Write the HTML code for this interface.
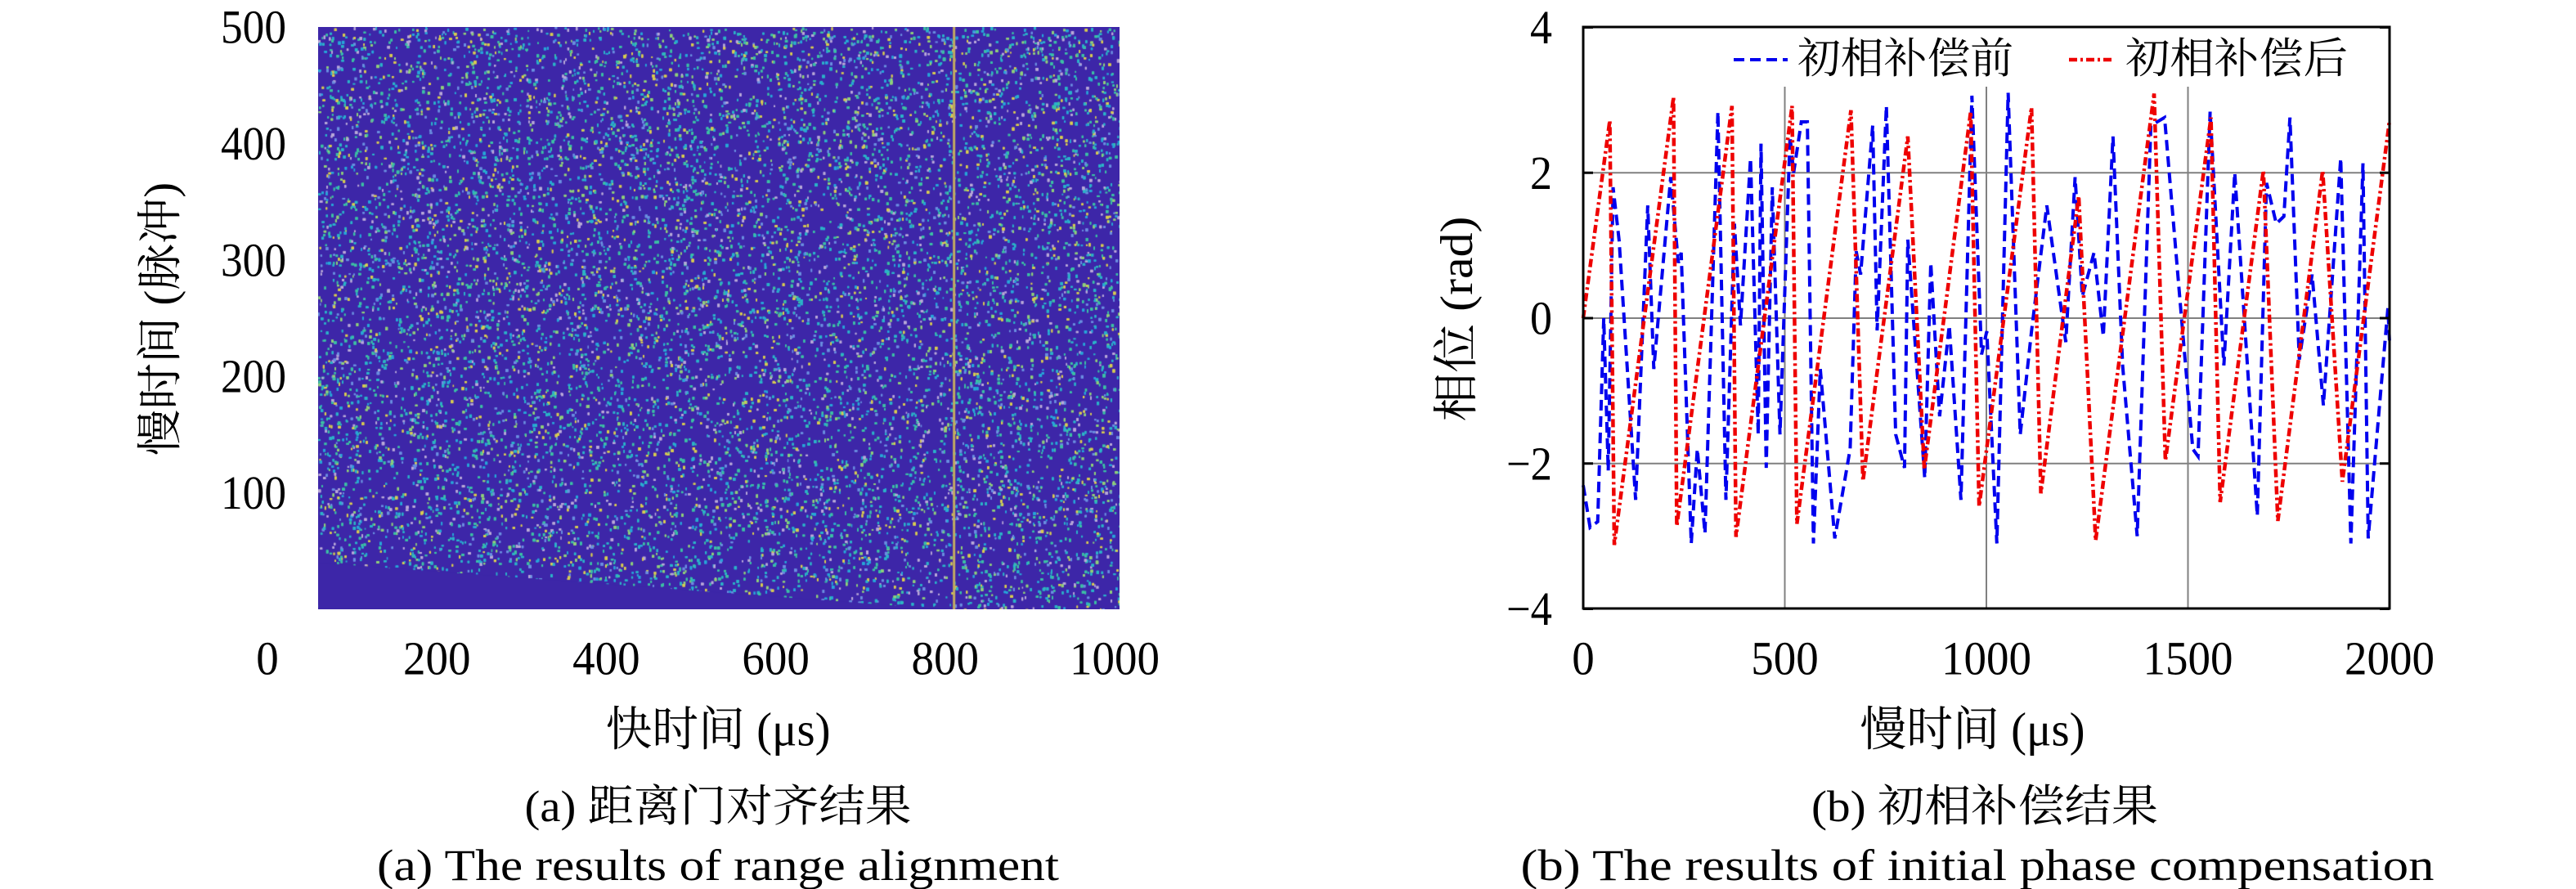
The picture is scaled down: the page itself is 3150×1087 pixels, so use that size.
<!DOCTYPE html>
<html><head><meta charset="utf-8"><style>
html,body{margin:0;padding:0;background:#fff;}
#wrap{position:relative;width:3150px;height:1087px;overflow:hidden;}
svg text{font-family:"Liberation Serif","Noto Serif CJK SC",serif;fill:#000;}
</style></head><body>
<div id="wrap">
<canvas id="heat" width="980" height="712" style="position:absolute;left:389px;top:33px;"></canvas>
<svg id="svg" width="3150" height="1087" style="position:absolute;left:0;top:0;"></svg>
</div>
<script>
// ---- Right chart data (slow time vs phase) ----
const redX = [0,66,77,224,232,369,379,518,530,664,694,805,846,961,982,1112,1135,1229,1271,1416,1444,1557,1580,1687,1723,1834,1883,2000];
const redY = [0,2.72,-3.12,3.04,-2.86,2.92,-3.01,2.92,-2.83,2.86,-2.24,2.5,-2.08,2.84,-2.59,2.9,-2.41,1.68,-3.06,3.09,-1.96,2.76,-2.53,2.03,-2.79,2.03,-2.25,2.72];
const blueX = [0,17,36,51,62,74,89,130,160,175,217,236,243,268,283,302,334,354,375,390,415,434,441,454,469,488,513,522,541,556,571,588,624,662,677,688,718,729,752,775,797,805,847,862,884,908,937,964,988,1001,1026,1054,1084,1112,1150,1197,1220,1238,1267,1290,1314,1338,1374,1408,1442,1484,1512,1525,1555,1589,1616,1672,1695,1719,1738,1753,1776,1808,1836,1879,1904,1934,1947,1974,1996,2000];
const blueY = [-2.3,-2.88,-2.8,0,-2.1,1.8,1.07,-2.5,1.55,-0.7,1.94,0.76,0.9,-3.1,-1.8,-2.96,2.84,-2.5,1.3,-0.1,2.2,-1.6,2.4,-2.06,1.8,-1.6,2.5,2.0,2.7,2.7,-3.1,-0.7,-3.03,-1.8,0.92,0.6,2.65,-0.17,2.92,-1.6,-2.06,1.08,-2.2,0.76,-1.35,-0.1,-2.5,3.06,-0.5,-0.18,-3.1,3.1,-1.6,-0.18,1.55,-0.33,1.94,0.3,0.9,-0.25,2.5,-0.65,-3.0,2.65,2.76,0,-1.8,-1.9,2.84,-0.65,2.0,-2.72,1.86,1.3,1.4,2.76,-0.57,0.6,-1.2,2.2,-3.1,2.13,-3.03,-1.27,0.14,-0.33];
const rightXTicks = [0,500,1000,1500,2000];
const rightYTicks = [4,2,0,-2,-4];
const rightYTickLabels = ["4","2","0","\u22122","\u22124"];
// ---- Left chart axis ticks ----
const leftXTicks = [0,200,400,600,800,1000];
const leftYTicks = [500,400,300,200,100];
// heatmap: dark (no-echo) region boundary (fast time -> slow time pulse)
const darkEdgeX = [60,800];
const darkEdgeY = [40,0];
const lineFastTime = [810];

const NS="http://www.w3.org/2000/svg";
const svg=document.getElementById('svg');
function el(tag,attrs,parent){const e=document.createElementNS(NS,tag);for(const k in attrs)e.setAttribute(k,attrs[k]);(parent||svg).appendChild(e);return e;}
function txt(s,x,y,size,len,anchor,parent,rot){
  const t=el('text',{x:x,y:y,'font-size':size,'text-anchor':anchor||'middle','dominant-baseline':'central'},parent);
  if(len){t.setAttribute('textLength',len);t.setAttribute('lengthAdjust','spacingAndGlyphs');}
  if(rot)t.setAttribute('transform','rotate(-90 '+x+' '+y+')');
  t.textContent=s;return t;}

// Left axes
const lx=v=>327+(v)*(1363-327)/1000;
const ly=v=>745-v*(745-33)/500;
leftYTicks.forEach(v=>{
  const t=txt(String(v),350,ly(v),58,80,'end');
  
  
});
leftXTicks.forEach(v=>{
  const s=String(v);
  const t=txt(s,lx(v),805,58,s.length*27.5,'middle');
  
  
});
let t;
t=txt('慢时间 (脉冲)',197,390,56,334,'middle',null,true);

t=txt('快时间 (μs)',878,892,58,275);

t=txt('(a) 距离门对齐结果',878,986,54,473);

t=txt('(a) The results of range alignment',878,1058,54,834);


// Heatmap canvas (texture)
(function(){
  const c=document.getElementById('heat').getContext('2d');
  const W=980,H=712;
  c.fillStyle='#3d26a8';c.fillRect(0,0,W,H);
  let s=12345;const rnd=()=>{s=(s*1103515245+12345)&0x7fffffff;return s/0x7fffffff;};
  const cols=['#2bb3c8','#3cc0a4','#2bb3c8','#8fd07a','#6a8ee0','#b8a8d8','#27a6d8','#3cc0a4','#d8cc50'];
  const ox=389;
  const cx=v=>lx(v)-ox;const cy=v=>ly(v)-33;
  for(let i=0;i<34000;i++){
    const x=rnd()*W,y=rnd()*H;
    c.fillStyle=cols[Math.floor(rnd()*cols.length)];
    c.fillRect(x,y,1.5+rnd()*2,2+rnd()*2);
  }
  c.fillStyle='#3d26a8';
  c.beginPath();c.moveTo(cx(darkEdgeX[0]),cy(darkEdgeY[0]));c.lineTo(cx(darkEdgeX[1]),cy(darkEdgeY[1]));c.lineTo(cx(darkEdgeX[0]),cy(0));c.closePath();c.fill();
  c.fillStyle='#c2aa62';
  lineFastTime.forEach(v=>c.fillRect(cx(v)-1,0,3,H));
})();

// Right chart
const RL=1936, RR=2922;
const rx=v=>RL+v*(RR-RL)/2000;
const ry=v=>389-v*(744-33)/8;
const g=el('g',{});

el('rect',{x:RL,y:33,width:RR-RL,height:711,fill:'#fff'},g);
[2,0,-2].forEach(v=>{const l=el('line',{x1:RL,x2:RR,y1:ry(v),y2:ry(v),stroke:'#808080','stroke-width':2},g);
  });
[500,1000,1500].forEach(v=>{const l=el('line',{x1:rx(v),x2:rx(v),y1:106,y2:744,stroke:'#808080','stroke-width':2},g);
  });
function pts(X,Y){return X.map((x,i)=>rx(x).toFixed(1)+','+ry(Y[i]).toFixed(1)).join(' ');}
const blue=el('polyline',{points:pts(blueX,blueY),fill:'none',stroke:'#0000ee','stroke-width':4,'stroke-dasharray':'13 7'},g);

const red=el('polyline',{points:pts(redX,redY),fill:'none',stroke:'#ee0000','stroke-width':4.5,'stroke-dasharray':'10 4 3 4'},g);

rightYTicks.forEach(v=>{el('line',{x1:RR-12,x2:RR,y1:ry(v),y2:ry(v),stroke:'#000','stroke-width':3},g);el('line',{x1:RL,x2:RL+12,y1:ry(v),y2:ry(v),stroke:'#000','stroke-width':3},g);});
const frame=el('rect',{x:RL,y:33,width:RR-RL,height:711,fill:'none',stroke:'#000','stroke-width':3},g);

rightYTicks.forEach((v,i)=>{const s=rightYTickLabels[i];
  const t=txt(s,1898,ry(v),58,s.length>1?56:27,'end');
  });
rightXTicks.forEach(v=>{const s=String(v);
  const t=txt(s,rx(v),805,58,s.length*27.5,'middle');
  });
// legend
const lg=el('g',{});

const l1=el('line',{x1:2120,x2:2186,y1:73,y2:73,stroke:'#0000ee','stroke-width':4,'stroke-dasharray':'13 7'},lg);

t=txt('初相补偿前',2198,73,52,264,'start',lg);

const l2=el('line',{x1:2530,x2:2586,y1:73,y2:73,stroke:'#ee0000','stroke-width':4.5,'stroke-dasharray':'10 4 3 4'},lg);

t=txt('初相补偿后',2599,73,52,272,'start',lg);


t=txt('相位 (rad)',1782,390,56,251,'middle',null,true);

t=txt('慢时间 (μs)',2412,892,58,275);

t=txt('(b) 初相补偿结果',2427,986,54,424);

t=txt('(b) The results of initial phase compensation',2418,1058,54,1117);

</script>
</body></html>
